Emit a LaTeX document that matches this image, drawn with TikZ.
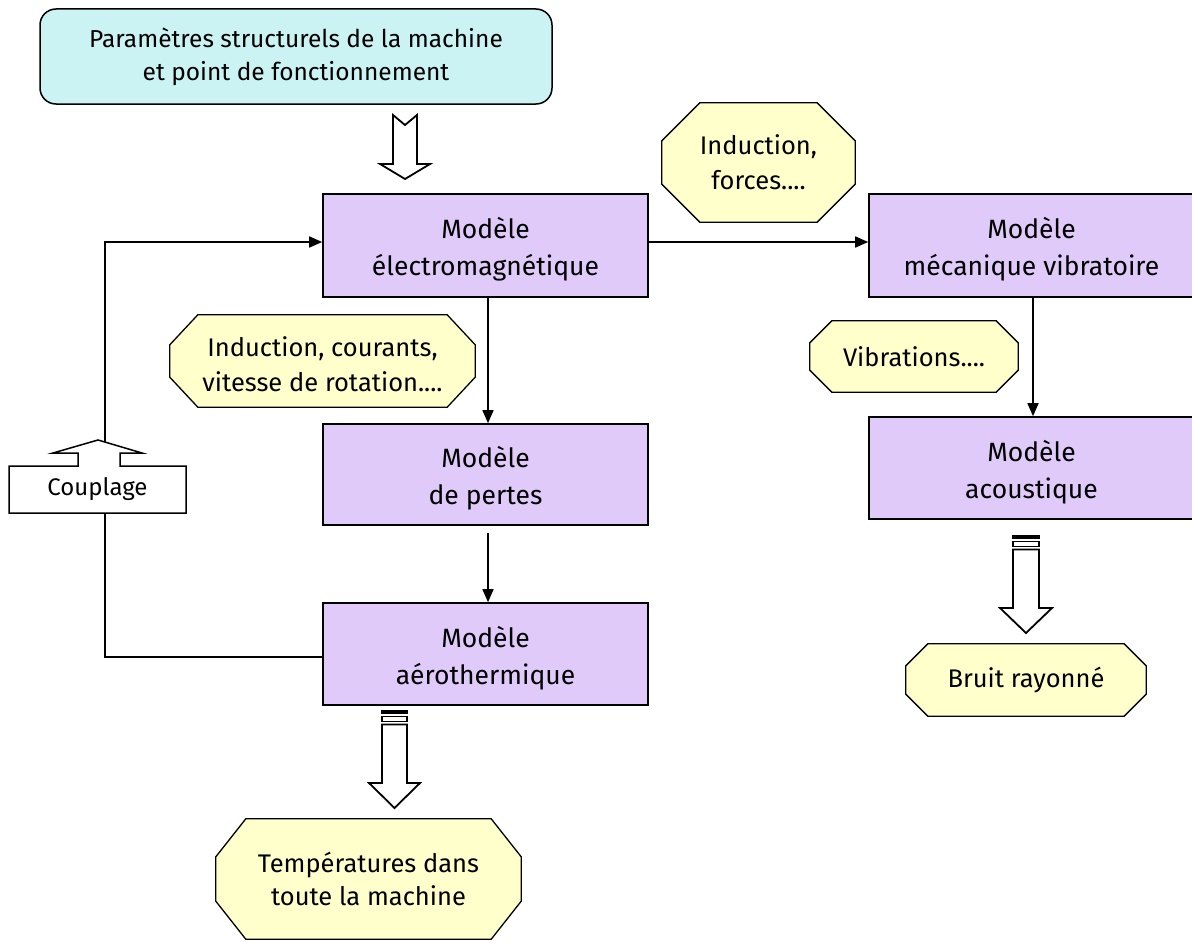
\documentclass[tikz,border=0pt]{standalone}
\usepackage{fontspec}
\setmainfont{Fira Sans}
\usetikzlibrary{arrows.meta,backgrounds}
\definecolor{lav}{RGB}{224,202,250}
\definecolor{lyel}{RGB}{255,255,204}
\definecolor{lcyan}{RGB}{204,243,243}
\newcommand\octagonbg[3]{%
  \filldraw[octline] ([xshift=#2]#1.north west) -- ([xshift=-#2]#1.north east) -- ([yshift=-#3]#1.north east) -- ([yshift=#3]#1.south east) -- ([xshift=-#2]#1.south east) -- ([xshift=#2]#1.south west) -- ([yshift=#3]#1.south west) -- ([yshift=-#3]#1.north west) -- cycle;}
\begin{document}
\begin{tikzpicture}[x=1pt,y=-1pt,
  txt/.style={align=center,font=\fontsize{25.5}{35}\selectfont},
  model/.style={align=center,font=\fontsize{26.5}{37}\selectfont,text height=66pt,text depth=6pt,draw,line width=1.6pt,fill=lav,minimum width=325pt,inner sep=0pt},
  octbox/.style={txt,inner sep=0pt},
  octline/.style={draw,line width=1.3pt,fill=lyel},
  conn/.style={line width=1.6pt},
  arr/.style={conn,-{Triangle[length=13pt,width=11pt]}},
  hollow/.style={draw,line width=1.8pt,fill=white,line join=miter}]
\useasboundingbox (0,0) rectangle (1192,942);

% top box
\node[align=center,draw,line width=1.5pt,fill=lcyan,rounded corners=16pt,minimum width=512pt,minimum height=95pt,inner sep=0pt,font=\fontsize{24.5}{33}\selectfont] (par) at (296,56.5) {Paramètres structurels de la machine\\et point de fonctionnement};

% models
\node[model,minimum height=103pt] (em) at (485.5,245.5) {Modèle\\électromagnétique};
\node[model,minimum height=101pt] (pe) at (485.5,474.5) {Modèle\\de pertes};
\node[model,minimum height=102pt] (ae) at (485.5,654) {Modèle\\aérothermique};
\node[model,minimum height=103pt] (me) at (1031.5,245.5) {Modèle\\mécanique vibratoire};
\node[model,minimum height=102pt] (ac) at (1031.5,468) {Modèle\\acoustique};

% octagons
\node[octbox,minimum width=193pt,minimum height=119pt] (force) at (758.5,162.5) {Induction,\\forces....};
\node[octbox,minimum width=305pt,minimum height=92pt,text height=66pt,text depth=6pt] (cour) at (322.5,361) {Induction, courants,\\vitesse de rotation....};
\node[octbox,minimum width=208pt,minimum height=71pt] (vib) at (914,356.5) {Vibrations....};
\node[octbox,minimum width=240pt,minimum height=72pt] (bruit) at (1026,680) {Bruit rayonné};
\node[octbox,minimum width=305pt,minimum height=120pt,font=\fontsize{25.5}{33}\selectfont] (temp) at (368.5,879) {Températures dans\\toute la machine};
\begin{scope}[on background layer]
\octagonbg{force}{38pt}{38pt}
\octagonbg{cour}{28pt}{30pt}
\octagonbg{vib}{22pt}{22pt}
\octagonbg{bruit}{22pt}{22pt}
\octagonbg{temp}{30pt}{38pt}
\end{scope}

% couplage callout
\draw[line width=1.5pt,fill=white,line join=miter] (9,466) -- (78,466) -- (78,453) -- (53,453) -- (98,440) -- (142,453) -- (120,453) -- (120,466) -- (186,466) -- (186,513) -- (9,513) -- cycle;
\node[inner sep=0pt,minimum width=177pt,minimum height=47pt,font=\fontsize{24}{28}\selectfont] (cp) at (97.5,489.5) {Couplage};
\coordinate (cup) at (105,442);

% connectors
\draw[arr] (cup) |- ([yshift=3.5pt]em.west);
\draw[conn] ([xshift=7.5pt]cp.south) |- ([yshift=-3pt]ae.west);
\draw[arr] ([xshift=2.5pt]em.south) -- ([xshift=2.5pt]pe.north);
\draw[arr] ([xshift=2.5pt,yshift=-7pt]pe.south) -- ([xshift=2.5pt]ae.north);
\draw[arr] ([yshift=3.5pt]em.east) -- ([yshift=3.5pt]me.west);
\draw[arr] ([xshift=1.5pt]me.south) -- ([xshift=1.5pt]ac.north);

% hollow arrow from top box
\draw[hollow] (393,115) -- (405,125) -- (417,115) -- (417,164) -- (430,164) -- (405,179) -- (380,164) -- (393,164) -- cycle;

% striped arrow below aerothermique
\filldraw[line width=1.5pt] (382,711) rectangle (407,713.5);
\draw[line width=1.5pt,fill=white] (382,716.5) rectangle (407,721.5);
\draw[hollow] (382,724.5) -- (407,724.5) -- (407,783) -- (420,783) -- (394.5,808) -- (369,783) -- (382,783) -- cycle;

% striped arrow below acoustique
\filldraw[line width=1.5pt] (1013,536) rectangle (1039,538.5);
\draw[line width=1.5pt,fill=white] (1013,541.5) rectangle (1039,546.5);
\draw[hollow] (1013,549.5) -- (1039,549.5) -- (1039,608) -- (1052,608) -- (1026,633) -- (1000,608) -- (1013,608) -- cycle;
\end{tikzpicture}
\end{document}
